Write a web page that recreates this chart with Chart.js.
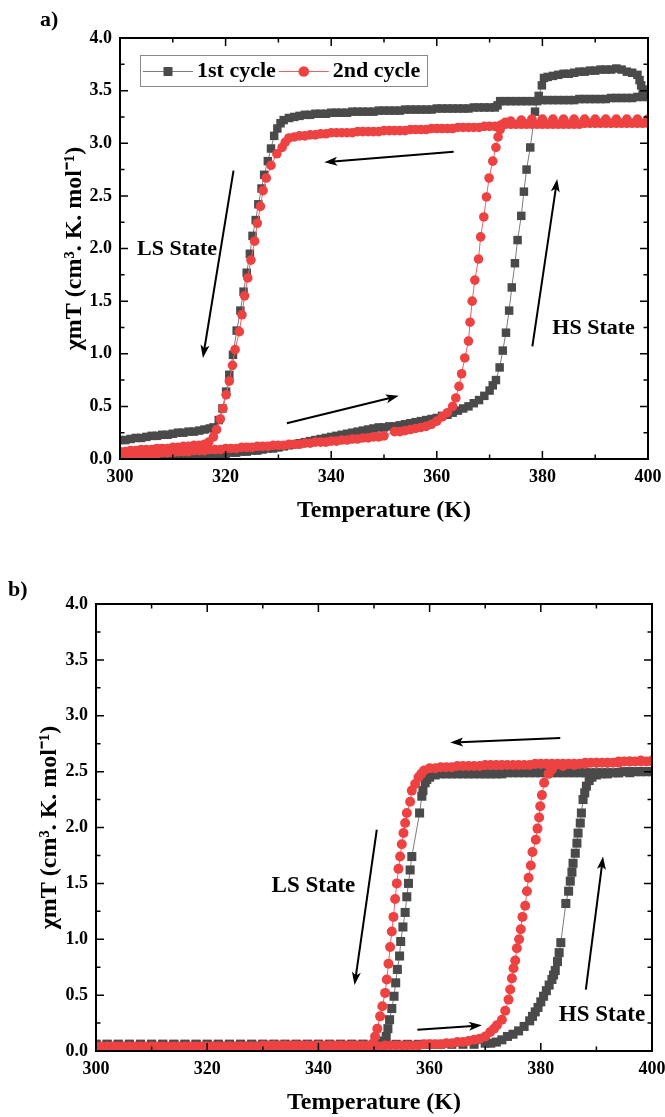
<!DOCTYPE html>
<html>
<head>
<meta charset="utf-8">
<script src="https://cdn.jsdelivr.net/npm/chart.js@4.4.1/dist/chart.umd.min.js"></script>
<style>
  body { margin: 0; background: #fff; }
  #wrap { position: relative; width: 665px; height: 1117px; }
  canvas { position: absolute; left: 0; }
  #chartA { top: 0; }
  #chartB { top: 560px; }
</style>
</head>
<body>
<div id="wrap">
  <canvas id="chartA" width="665" height="545"></canvas>
  <canvas id="chartB" width="665" height="557"></canvas>
</div>
<script>
// ---- data: [temperature K, chiMT] ----
// panel a, 1st cycle
const a1Heat = [[300,0.00],[301,0.00],[302,0.01],[303,0.01],[304,0.01],[305,0.01],[306,0.01],[307,0.02],[308,0.02],[309,0.02],[310,0.02],[311,0.02],[312,0.03],[313,0.03],[314,0.03],[315,0.03],[316,0.04],[317,0.04],[318,0.04],[319,0.05],[320,0.05],[321,0.06],[322,0.06],[323,0.07],[324,0.07],[325,0.08],[326,0.08],[327,0.09],[328,0.10],[329,0.10],[330,0.11],[331,0.12],[332,0.13],[333,0.14],[334,0.15],[335,0.16],[336,0.17],[337,0.18],[338,0.19],[339,0.20],[340,0.21],[341,0.22],[342,0.23],[343,0.24],[344,0.25],[345,0.26],[346,0.27],[347,0.28],[348,0.29],[349,0.30],[350,0.30],[351,0.31],[352,0.31],[353,0.32],[354,0.33],[355,0.34],[356,0.35],[357,0.36],[358,0.37],[359,0.38],[360,0.39],[361,0.41],[362,0.42],[363,0.44],[364,0.46],[365,0.48],[366,0.50],[367,0.53],[368,0.56],[369,0.60],[370,0.65],[370.6,0.70],[371.2,0.75],[371.9,0.87],[372.5,1.03],[373.1,1.20],[373.7,1.41],[374.2,1.63],[374.8,1.86],[375.3,2.08],[376.0,2.31],[376.5,2.54],[377.0,2.75],[377.7,2.96],[378.6,3.30],[379.3,3.45],[379.9,3.55],[380.3,3.62],[381,3.63],[382,3.64],[383,3.65],[384,3.66],[385,3.66],[386,3.67],[387,3.68],[388,3.68],[389,3.69],[390,3.69],[391,3.70],[392,3.70],[393,3.70],[394,3.71],[395,3.70],[396,3.68],[397,3.67],[398,3.65],[398.4,3.60],[398.7,3.55],[399,3.51],[399.4,3.47],[400,3.45]];
const a1Cool = [[400,3.44],[399,3.44],[398,3.44],[397,3.43],[396,3.43],[395,3.43],[394,3.43],[393,3.43],[392,3.42],[391,3.42],[390,3.42],[389,3.42],[388,3.42],[387,3.42],[386,3.41],[385,3.41],[384,3.41],[383,3.41],[382,3.41],[381,3.41],[380,3.41],[379,3.40],[378,3.40],[377,3.40],[376,3.40],[375,3.40],[374,3.40],[373,3.40],[372,3.40],[371.5,3.36],[371,3.34],[370,3.34],[369,3.34],[368,3.34],[367,3.34],[366,3.33],[365,3.33],[364,3.33],[363,3.33],[362,3.33],[361,3.33],[360,3.33],[359,3.32],[358,3.32],[357,3.32],[356,3.32],[355,3.32],[354,3.32],[353,3.31],[352,3.31],[351,3.31],[350,3.31],[349,3.31],[348,3.30],[347,3.30],[346,3.30],[345,3.30],[344,3.30],[343,3.29],[342,3.29],[341,3.29],[340,3.29],[339,3.28],[338,3.28],[337,3.28],[336,3.27],[335,3.27],[334,3.26],[333,3.25],[332,3.24],[331,3.22],[330.4,3.19],[329.8,3.14],[329.2,3.07],[328.6,2.95],[328.0,2.83],[327.3,2.70],[326.8,2.57],[326.2,2.42],[325.7,2.27],[325.1,2.12],[324.6,1.95],[324.0,1.77],[323.4,1.59],[322.8,1.41],[322.1,1.22],[321.4,0.99],[320.7,0.80],[320.1,0.64],[319.4,0.48],[318.7,0.37],[317.7,0.30],[317,0.29],[316,0.28],[315,0.27],[314,0.26],[313,0.26],[312,0.25],[311,0.25],[310,0.24],[309,0.23],[308,0.23],[307,0.22],[306,0.22],[305,0.21],[304,0.20],[303,0.20],[302,0.19],[301,0.18],[300,0.18]];
// panel a, 2nd cycle
const a2Heat = [[300,0.03],[301,0.03],[302,0.04],[303,0.04],[304,0.04],[305,0.05],[306,0.05],[307,0.05],[308,0.06],[309,0.06],[310,0.06],[311,0.07],[312,0.07],[313,0.07],[314,0.08],[315,0.08],[316,0.08],[317,0.09],[318,0.09],[319,0.09],[320,0.10],[321,0.10],[322,0.10],[323,0.11],[324,0.11],[325,0.11],[326,0.12],[327,0.12],[328,0.12],[329,0.13],[330,0.13],[331,0.13],[332,0.14],[333,0.14],[334,0.14],[335,0.15],[336,0.15],[337,0.16],[338,0.16],[339,0.16],[340,0.17],[341,0.17],[342,0.18],[343,0.18],[344,0.19],[345,0.19],[346,0.20],[347,0.20],[348,0.21],[349,0.21],[350,0.22],[352,0.26],[353,0.26],[354,0.27],[355,0.28],[356,0.29],[357,0.30],[358,0.31],[359,0.33],[360,0.36],[361,0.40],[362,0.44],[363,0.50],[363.6,0.58],[364.2,0.69],[364.7,0.81],[365.3,0.96],[366.0,1.12],[366.3,1.30],[366.7,1.50],[367.2,1.70],[367.9,1.90],[368.3,2.11],[368.9,2.30],[369.4,2.49],[369.9,2.67],[370.6,2.83],[371.2,2.96],[371.6,3.06],[372.0,3.13],[372.5,3.18],[373,3.20],[374,3.21],[376,3.22],[378,3.23],[380,3.23],[382,3.23],[384,3.23],[386,3.23],[388,3.23],[390,3.23],[392,3.23],[394,3.23],[396,3.23],[398,3.23],[400,3.23]];
const a2Cool = [[400,3.19],[399,3.19],[398,3.19],[397,3.19],[396,3.19],[395,3.19],[394,3.19],[393,3.19],[392,3.19],[391,3.19],[390,3.19],[389,3.19],[388,3.19],[387,3.18],[386,3.18],[385,3.18],[384,3.18],[383,3.18],[382,3.18],[381,3.18],[380,3.18],[379,3.18],[378,3.18],[377,3.18],[376,3.18],[375,3.18],[374,3.18],[373,3.18],[372,3.17],[371,3.16],[370,3.16],[369,3.16],[368,3.15],[367,3.15],[366,3.15],[365,3.15],[364,3.15],[363,3.14],[362,3.14],[361,3.14],[360,3.14],[359,3.14],[358,3.13],[357,3.13],[356,3.13],[355,3.13],[354,3.12],[353,3.12],[352,3.12],[351,3.12],[350,3.12],[349,3.11],[348,3.11],[347,3.11],[346,3.11],[345,3.11],[344,3.10],[343,3.10],[342,3.10],[341,3.10],[340,3.10],[339,3.09],[338,3.09],[337,3.08],[336,3.08],[335,3.07],[334,3.07],[333,3.06],[332,3.05],[331.3,3.01],[330.7,2.96],[329.7,2.90],[328.6,2.79],[327.7,2.67],[327.1,2.55],[326.6,2.40],[326.0,2.24],[325.5,2.07],[324.8,1.89],[324.2,1.72],[323.6,1.55],[323.1,1.37],[322.6,1.21],[321.8,1.04],[321.3,0.89],[320.7,0.74],[320.1,0.61],[319.5,0.48],[319.0,0.38],[318.3,0.28],[317.7,0.21],[316.8,0.16],[316,0.14],[315,0.13],[314,0.13],[313,0.12],[312,0.12],[311,0.11],[310,0.11],[309,0.10],[308,0.10],[307,0.10],[306,0.09],[305,0.09],[304,0.09],[303,0.08],[302,0.08],[301,0.07],[300,0.07]];

// panel b, 1st cycle
const b1Heat = [[300,0.06],[302,0.06],[304,0.06],[306,0.06],[308,0.06],[310,0.06],[312,0.06],[314,0.06],[316,0.06],[318,0.06],[320,0.06],[322,0.06],[324,0.06],[326,0.06],[328,0.06],[330,0.06],[332,0.06],[334,0.06],[336,0.06],[338,0.06],[340,0.06],[342,0.06],[344,0.06],[346,0.06],[348,0.06],[350,0.06],[352,0.06],[354,0.06],[356,0.06],[358,0.06],[360,0.06],[362,0.06],[364,0.06],[366,0.06],[368,0.06],[370,0.07],[371,0.07],[372,0.08],[373,0.10],[374,0.13],[375,0.15],[376,0.18],[377,0.22],[378,0.27],[378.5,0.31],[379,0.35],[379.5,0.39],[380,0.44],[380.5,0.49],[381,0.54],[381.5,0.59],[382,0.64],[382.3,0.68],[382.6,0.72],[383,0.80],[383.3,0.88],[383.6,0.97],[384.5,1.32],[385.0,1.43],[385.3,1.52],[385.6,1.60],[385.8,1.68],[386.2,1.77],[386.5,1.86],[386.7,1.95],[387.1,2.04],[387.3,2.13],[387.6,2.25],[387.9,2.31],[388.2,2.37],[388.7,2.42],[389.2,2.45],[390,2.47],[391,2.48],[392,2.48],[394,2.49],[396,2.49],[398,2.50],[400,2.50]];
const b1Cool = [[400,2.50],[399,2.50],[398,2.50],[397,2.50],[396,2.50],[395,2.50],[394,2.49],[393,2.49],[392,2.49],[391,2.49],[390,2.49],[389,2.49],[388,2.49],[387,2.49],[386,2.49],[385,2.49],[384,2.49],[383,2.49],[382,2.49],[381,2.49],[380,2.49],[379,2.49],[378,2.49],[377,2.49],[376,2.49],[375,2.49],[374,2.49],[373,2.48],[372,2.48],[371,2.48],[370,2.48],[369,2.48],[368,2.48],[367,2.48],[366,2.48],[365,2.48],[364,2.48],[363,2.48],[362,2.48],[361,2.47],[360,2.45],[359.5,2.43],[359.2,2.40],[358.8,2.33],[358.6,2.28],[358.2,2.13],[356.8,1.74],[356.5,1.62],[356.2,1.50],[355.9,1.38],[355.6,1.24],[355.2,1.11],[354.8,0.98],[354.6,0.85],[354.2,0.73],[353.9,0.61],[353.6,0.49],[353.2,0.38],[352.8,0.28],[352.5,0.20],[352.2,0.13],[351.8,0.09],[351,0.07],[350,0.06],[348,0.06],[346,0.06],[344,0.06],[342,0.06],[340,0.06],[338,0.06],[336,0.06],[334,0.06],[332,0.06],[330,0.06],[328,0.06],[326,0.06],[324,0.06],[322,0.06],[320,0.06],[318,0.06],[316,0.06],[314,0.06],[312,0.06],[310,0.06],[308,0.06],[306,0.06],[304,0.06],[302,0.06],[300,0.06]];
// panel b, 2nd cycle
const b2Heat = [[300,0.03],[301,0.03],[302,0.03],[303,0.03],[304,0.03],[305,0.03],[306,0.03],[307,0.03],[308,0.03],[309,0.03],[310,0.03],[311,0.03],[312,0.03],[313,0.03],[314,0.03],[315,0.03],[316,0.03],[317,0.03],[318,0.03],[319,0.03],[320,0.03],[321,0.04],[322,0.04],[323,0.04],[324,0.04],[325,0.04],[326,0.04],[327,0.04],[328,0.04],[329,0.04],[330,0.04],[331,0.04],[332,0.04],[333,0.04],[334,0.04],[335,0.04],[336,0.04],[337,0.04],[338,0.04],[339,0.04],[340,0.04],[341,0.04],[342,0.04],[343,0.04],[344,0.04],[345,0.04],[346,0.04],[347,0.04],[348,0.04],[349,0.04],[350,0.04],[351,0.04],[352,0.05],[353,0.05],[354,0.05],[355,0.05],[356,0.05],[357,0.05],[358,0.05],[359,0.06],[360,0.06],[361,0.06],[362,0.06],[363,0.07],[364,0.07],[365,0.08],[366,0.08],[367,0.09],[368,0.10],[369,0.11],[370,0.13],[370.9,0.17],[371.6,0.20],[372.1,0.23],[373.0,0.28],[373.6,0.36],[374.2,0.46],[374.5,0.55],[374.8,0.65],[375.1,0.74],[375.4,0.81],[375.7,0.92],[376.1,1.00],[376.4,1.09],[376.7,1.20],[377.2,1.30],[377.5,1.43],[377.8,1.55],[378.2,1.66],[378.5,1.78],[379.1,1.89],[379.4,1.99],[379.7,2.09],[379.9,2.19],[380.2,2.29],[380.6,2.40],[381.4,2.48],[382,2.52],[384,2.55],[386,2.56],[388,2.57],[390,2.58],[392,2.58],[394,2.59],[396,2.59],[398,2.60],[400,2.60]];
const b2Cool = [[400,2.59],[399,2.59],[398,2.59],[397,2.59],[396,2.59],[395,2.59],[394,2.58],[393,2.58],[392,2.58],[391,2.58],[390,2.58],[389,2.58],[388,2.58],[387,2.57],[386,2.57],[385,2.57],[384,2.57],[383,2.57],[382,2.57],[381,2.57],[380,2.57],[379,2.57],[378,2.56],[377,2.56],[376,2.56],[375,2.56],[374,2.56],[373,2.56],[372,2.56],[371,2.56],[370,2.56],[369,2.55],[368,2.55],[367,2.55],[366,2.55],[365,2.55],[364,2.54],[363,2.54],[362,2.54],[361,2.53],[360,2.53],[359,2.51],[358.5,2.48],[358.0,2.45],[357.4,2.39],[356.8,2.33],[356.5,2.23],[355.9,2.13],[355.6,2.04],[355.3,1.95],[355.0,1.85],[354.7,1.74],[354.4,1.63],[354.1,1.50],[353.8,1.36],[353.5,1.20],[353.2,1.07],[352.9,0.93],[352.6,0.78],[352.3,0.64],[352.0,0.52],[351.5,0.40],[351.1,0.31],[350.6,0.20],[350.2,0.13],[349.9,0.07],[349,0.05],[348,0.05],[347,0.05],[346,0.05],[345,0.05],[344,0.05],[343,0.05],[342,0.05],[341,0.05],[340,0.05],[339,0.05],[338,0.05],[337,0.05],[336,0.05],[335,0.05],[334,0.05],[333,0.05],[332,0.05],[331,0.05],[330,0.05],[329,0.04],[328,0.04],[327,0.04],[326,0.04],[325,0.04],[324,0.04],[323,0.04],[322,0.04],[321,0.04],[320,0.04],[319,0.04],[318,0.04],[317,0.04],[316,0.04],[315,0.04],[314,0.04],[313,0.04],[312,0.04],[311,0.04],[310,0.04],[309,0.04],[308,0.04],[307,0.04],[306,0.04],[305,0.04],[304,0.04],[303,0.04],[302,0.04],[301,0.04],[300,0.04]];

// axis ticks (major labelled, minor between)
const tempTicks = [300, 310, 320, 330, 340, 350, 360, 370, 380, 390, 400];
const chiTicks = [0, 0.25, 0.5, 0.75, 1, 1.25, 1.5, 1.75, 2, 2.25, 2.5, 2.75, 3, 3.25, 3.5, 3.75, 4];
const seriesNames = ['1st cycle', '2nd cycle'];

const serif = "'Liberation Serif', 'Times New Roman', Times, serif";
const markGrey = '#4a4a4a';
const lineGrey = '#7c7c7c';
const markRed = '#ee4242';
const lineRed = '#f06060';

function pts(list) {
  return list.map(p => ({ x: p[0], y: p[1] }));
}

function drawArrow(ctx, x1, y1, x2, y2) {
  const ang = Math.atan2(y2 - y1, x2 - x1);
  const c = Math.cos(ang), s = Math.sin(ang);
  const head = 13, half = 4.5;
  ctx.beginPath();
  ctx.moveTo(x1, y1);
  ctx.lineTo(x2 - head * 0.7 * c, y2 - head * 0.7 * s);
  ctx.lineWidth = 2;
  ctx.stroke();
  ctx.beginPath();
  ctx.moveTo(x2, y2);
  ctx.lineTo(x2 - head * c + half * s, y2 - head * s - half * c);
  ctx.lineTo(x2 - head * 0.75 * c, y2 - head * 0.75 * s);
  ctx.lineTo(x2 - head * c - half * s, y2 - head * s + half * c);
  ctx.closePath();
  ctx.fill();
}

// frame, inward ticks, legend box, arrows and notes
function makeDeco(d) {
  return {
    id: 'deco',
    afterDatasetsDraw(chart) {
      const { ctx, chartArea: a, scales: { x, y } } = chart;
      ctx.save();
      ctx.strokeStyle = '#000';
      ctx.fillStyle = '#000';
      ctx.lineWidth = 1.5;
      ctx.beginPath();
      tempTicks.forEach((t, i) => {
        const px = x.getPixelForValue(t);
        const len = i % 2 === 0 ? 8 : 4.5;
        ctx.moveTo(px, a.bottom); ctx.lineTo(px, a.bottom - len);
        ctx.moveTo(px, a.top); ctx.lineTo(px, a.top + len);
      });
      chiTicks.forEach((v, i) => {
        const py = y.getPixelForValue(v);
        const len = i % 2 === 0 ? 8 : 4.5;
        ctx.moveTo(a.left, py); ctx.lineTo(a.left + len, py);
        ctx.moveTo(a.right, py); ctx.lineTo(a.right - len, py);
      });
      ctx.stroke();
      ctx.lineWidth = 2;
      ctx.strokeRect(a.left, a.top, a.right - a.left, a.bottom - a.top);

      // arrows
      d.arrows.forEach(ar => {
        drawArrow(ctx, x.getPixelForValue(ar[0]), y.getPixelForValue(ar[1]),
                  x.getPixelForValue(ar[2]), y.getPixelForValue(ar[3]));
      });
      // notes
      ctx.font = `bold ${d.noteSize}px ${serif}`;
      ctx.textAlign = 'center';
      ctx.textBaseline = 'middle';
      d.notes.forEach(n => {
        ctx.fillText(n.text, x.getPixelForValue(n.at[0]), y.getPixelForValue(n.at[1]));
      });

      // legend
      const L = d.legend;
      ctx.fillStyle = '#fff';
      ctx.fillRect(L.x, L.y, L.w, L.h);
      ctx.strokeStyle = '#8a8a8a';
      ctx.lineWidth = 1;
      ctx.strokeRect(L.x + 0.5, L.y + 0.5, L.w, L.h);
      ctx.font = `bold ${L.size}px ${serif}`;
      ctx.textAlign = 'left';
      ctx.textBaseline = 'middle';
      const cy = L.y + L.h / 2 + 1;
      let cx = L.x + 3;
      chart.data.datasets.forEach((ds, i) => {
        ctx.strokeStyle = ds.borderColor;
        ctx.lineWidth = 1;
        ctx.beginPath();
        ctx.moveTo(cx, cy); ctx.lineTo(cx + L.line, cy);
        ctx.stroke();
        ctx.fillStyle = ds.pointBackgroundColor;
        const mx = cx + L.line / 2;
        if (ds.pointStyle === 'rect') {
          ctx.fillRect(mx - 4.5, cy - 4.5, 9, 9);
        } else {
          ctx.beginPath(); ctx.arc(mx, cy, 5.3, 0, Math.PI * 2); ctx.fill();
        }
        ctx.fillStyle = '#000';
        ctx.fillText(seriesNames[i], cx + L.line + 4, cy);
        cx += L.line + 4 + ctx.measureText(seriesNames[i]).width + 3;
      });

      // panel letter
      ctx.font = `bold ${d.tag.size}px ${serif}`;
      ctx.textAlign = 'left';
      ctx.fillText(d.tag.text, d.tag.x, d.tag.y);
      ctx.restore();
    }
  };
}

function buildChart(id, p) {
  const tickFont = { family: serif, size: 18, weight: 'bold' };
  const titleFont = { family: serif, size: 24, weight: 'bold' };
  return new Chart(document.getElementById(id).getContext('2d'), {
    type: 'scatter',
    data: {
      datasets: [
        {
          label: seriesNames[0],
          data: pts(p.first),
          showLine: true,
          borderColor: lineGrey,
          borderWidth: 1,
          pointStyle: 'rect',
          pointRadius: p.rectR,
          pointBackgroundColor: markGrey,
          pointBorderWidth: 0,
          order: 2,
          clip: 0
        },
        {
          label: seriesNames[1],
          data: pts(p.second),
          showLine: true,
          borderColor: lineRed,
          borderWidth: 1,
          pointStyle: 'circle',
          pointRadius: p.circR,
          pointBackgroundColor: markRed,
          pointBorderWidth: 0,
          order: 1,
          clip: 0
        }
      ]
    },
    options: {
      responsive: false,
      animation: false,
      devicePixelRatio: 1,
      layout: { padding: p.padding },
      plugins: { legend: { display: false }, tooltip: { enabled: false } },
      scales: {
        x: {
          type: 'linear',
          min: 300, max: 400,
          grid: { display: false, drawTicks: false },
          border: { display: false },
          ticks: { stepSize: 20, padding: 8, color: '#000', font: tickFont, maxRotation: 0 },
          title: { display: true, text: 'Temperature (K)', color: '#000', font: titleFont, padding: { top: 0, bottom: 0 } },
          afterFit: s => { s.height = p.xHeight; s.paddingLeft = 0; s.paddingRight = 0; }
        },
        y: {
          min: 0, max: 4,
          grid: { display: false, drawTicks: false },
          border: { display: false },
          ticks: { stepSize: 0.5, padding: 8, color: '#000', font: tickFont, callback: v => v.toFixed(1) },
          title: { display: true, text: 'χmT (cm³. K. mol⁻¹)', color: '#000', font: titleFont, padding: { top: p.yTitlePad, bottom: 0 } },
          afterFit: s => { s.width = p.yWidth; s.paddingTop = 0; s.paddingBottom = 0; }
        }
      }
    },
    plugins: [makeDeco(p.deco)]
  });
}

buildChart('chartA', {
  first: a1Heat.concat(a1Cool),
  second: a2Heat.concat(a2Cool),
  rectR: 6, circR: 4.8,
  padding: { left: 0, right: 17, top: 38, bottom: 20 },
  xHeight: 66, yWidth: 120, yTitlePad: 60,
  deco: {
    arrows: [[363.2, 2.92, 338.7, 2.82], [321.5, 2.74, 315.7, 0.96], [331.6, 0.34, 352.8, 0.60], [378.1, 1.07, 382.8, 2.66]],
    notes: [{ text: 'LS State', at: [310.8, 1.99] }, { text: 'HS State', at: [389.7, 1.24] }],
    noteSize: 22,
    legend: { x: 140, y: 55, w: 287, h: 31, size: 22, line: 50 },
    tag: { text: 'a)', x: 40, y: 20, size: 22 }
  }
});

buildChart('chartB', {
  first: b1Heat.concat(b1Cool),
  second: b2Heat.concat(b2Cool),
  rectR: 6.4, circR: 5,
  padding: { left: 0, right: 13, top: 44, bottom: 0 },
  xHeight: 66, yWidth: 96, yTitlePad: 35,
  deco: {
    arrows: [[383.5, 2.80, 363.7, 2.76], [350.5, 1.98, 346.5, 0.59], [357.8, 0.19, 369.4, 0.23], [388.1, 0.55, 391.2, 1.74]],
    notes: [{ text: 'LS State', at: [339.1, 1.48] }, { text: 'HS State', at: [391.0, 0.32] }],
    noteSize: 23,
    legend: { x: 116, y: 618, w: 304, h: 33, size: 24, line: 53 },
    tag: { text: 'b)', x: 8, y: 30, size: 22 }
  }
});
</script>
</body>
</html>
